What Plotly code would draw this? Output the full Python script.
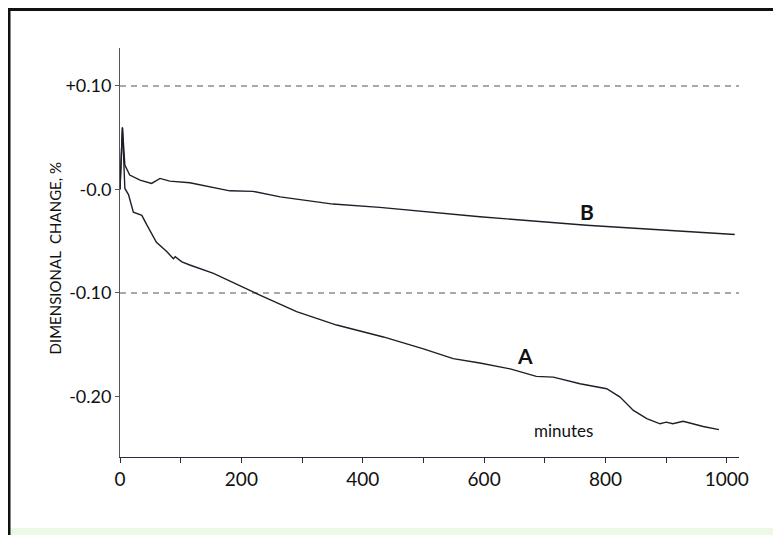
import plotly.graph_objects as go

# Curve A (minutes, dimensional change %)
a_minutes = [0, 4, 8, 14, 22, 36, 44, 60, 77, 82, 88, 91, 102, 115, 154, 225, 291, 357, 434, 500,
             549, 593, 643, 686, 714, 758, 802, 824, 846, 868, 890, 900, 911, 928, 961, 987]
a_change = [0.0, 0.060, 0.001, -0.005, -0.022, -0.025, -0.034, -0.051, -0.060, -0.063, -0.067, -0.065,
            -0.070, -0.073, -0.081, -0.1006, -0.118, -0.131, -0.1425, -0.154,
            -0.1635, -0.1677, -0.1734, -0.1806, -0.1813, -0.1877, -0.1925, -0.2006, -0.2135, -0.2215,
            -0.2264, -0.2248, -0.2264, -0.224, -0.229, -0.232]

# Curve B
b_minutes = [0, 4, 8, 16, 33, 52, 66, 82, 115, 181, 219, 264, 351, 428, 593, 769, 1013]
b_change = [0.0, 0.0597, 0.0236, 0.0139, 0.0091, 0.0059, 0.0107, 0.0081, 0.0065, -0.0013, -0.0018,
            -0.0071, -0.0141, -0.0173, -0.0264, -0.0345, -0.0435]

x_tickvals = [0, 100, 200, 300, 400, 500, 600, 700, 800, 900, 1000]
x_ticktext = ["0", "", "200", "", "400", "", "600", "", "800", "", "1000"]
y_tickvals = [0.10, 0.0, -0.10, -0.20]
y_ticktext = ["+0.10", "-0.0", "-0.10", "-0.20"]
ref_levels = [0.10, -0.10]

FONT = "Lato, 'Open Sans', sans-serif"
LINE = "#1e1e2a"

fig = go.Figure()
for lvl in ref_levels:
    fig.add_trace(go.Scatter(x=[0, 1020], y=[lvl, lvl], mode="lines",
                             line=dict(color="#555555", width=1.1, dash="6px,5px"),
                             hoverinfo="skip", showlegend=False))
fig.add_trace(go.Scatter(x=a_minutes, y=a_change, mode="lines", name="A",
                         line=dict(color=LINE, width=1.4), showlegend=False))
fig.add_trace(go.Scatter(x=b_minutes, y=b_change, mode="lines", name="B",
                         line=dict(color=LINE, width=1.4), showlegend=False))

fig.update_layout(
    width=773, height=527,
    margin=dict(l=112, r=42, t=40, b=78),
    paper_bgcolor="white", plot_bgcolor="white",
    font=dict(family=FONT, color="#111111"),
    xaxis=dict(range=[0, 1020], tickvals=x_tickvals, ticktext=x_ticktext,
               showgrid=False, zeroline=False, showline=True, linecolor="#2a2a40", linewidth=1.3,
               ticks="outside", ticklen=5, tickcolor="#2a2a40",
               tickfont=dict(size=19, family=FONT, color="#111111")),
    yaxis=dict(range=[-0.2585, 0.1367], tickvals=y_tickvals, ticktext=y_ticktext,
               showgrid=False, zeroline=False, showline=True, linecolor="#555555", linewidth=1,
               ticks="outside", ticklen=4, tickcolor="#555555",
               tickfont=dict(size=18, family=FONT, color="#111111")),
    annotations=[
        dict(x=769, y=-0.0216, xref="x", yref="y", text="<b>B</b>", showarrow=False,
             font=dict(size=21, family=FONT, color="#111111")),
        dict(x=667, y=-0.160, xref="x", yref="y", text="<b>A</b>", showarrow=False,
             font=dict(size=21, family=FONT, color="#111111")),
        dict(x=731, y=-0.233, xref="x", yref="y", text="minutes", showarrow=False,
             font=dict(size=17, family=FONT, color="#111111")),
        dict(x=-0.1212, y=0.4878, xref="paper", yref="paper", text="DIMENSIONAL  CHANGE, %",
             textangle=-90, showarrow=False, font=dict(size=15, family=FONT, color="#111111")),
    ],
    shapes=[
        dict(type="rect", xref="paper", yref="paper", x0=-0.2, x1=1.07, y0=-0.1736, y1=-0.195,
             fillcolor="#eef8e6", line=dict(width=0), layer="below"),
        dict(type="line", xref="paper", yref="paper", x0=-0.1793, x1=1.07, y0=1.0941, y1=1.0941,
             line=dict(color="#111111", width=3)),
        dict(type="line", xref="paper", yref="paper", x0=-0.1793, x1=-0.1793, y0=1.0978, y1=-0.195,
             line=dict(color="#111111", width=3)),
    ],
)

fig.write_html("out.html")
